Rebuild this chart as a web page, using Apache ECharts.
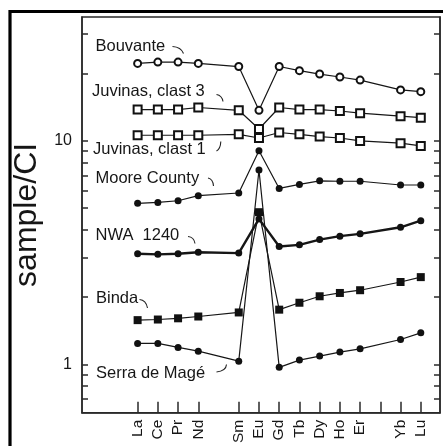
<!DOCTYPE html>
<html>
<head>
<meta charset="utf-8">
<script src="https://cdn.jsdelivr.net/npm/echarts@6/dist/echarts.min.js"></script>
<style>
  html, body { margin: 0; padding: 0; background: #fff; }
  #chart { width: 443px; height: 446px; }
</style>
</head>
<body>
<div id="chart"></div>
<script>
// REE along x; Pm and Tm keep their slot but have no analysis
const elements = ['La', 'Ce', 'Pr', 'Nd', 'Pm', 'Sm', 'Eu', 'Gd', 'Tb', 'Dy', 'Ho', 'Er', 'Tm', 'Yb', 'Lu'];
const measured = ['La', 'Ce', 'Pr', 'Nd', 'Sm', 'Eu', 'Gd', 'Tb', 'Dy', 'Ho', 'Er', 'Yb', 'Lu'];
const tickElements = ['La', 'Ce', 'Pr', 'Nd', 'Sm', 'Eu', 'Gd', 'Tb', 'Dy', 'Ho', 'Er', 'Tm', 'Yb', 'Lu'];

// sample / CI values, same order as measured
const bouvante     = [22.2, 22.5, 22.5, 22.2, 21.5, 13.7, 21.5, 20.6, 19.9, 19.3, 18.7, 16.9, 16.6];
const juvinas3     = [13.8, 13.8, 13.8, 14.1, 13.7, 11.3, 14.1, 13.8, 13.8, 13.6, 13.3, 12.9, 12.7];
const juvinas1     = [10.6, 10.6, 10.6, 10.6, 10.7, 10.3, 10.9, 10.7, 10.45, 10.3, 10.0, 9.77, 9.5];
const mooreCounty  = [5.26, 5.31, 5.40, 5.69, 5.85, 9.03, 6.13, 6.39, 6.63, 6.6, 6.6, 6.35, 6.35];
const nwa1240      = [3.13, 3.11, 3.13, 3.18, 3.15, 4.48, 3.37, 3.43, 3.62, 3.75, 3.84, 4.11, 4.40];
const binda        = [1.58, 1.59, 1.61, 1.64, 1.71, 4.80, 1.76, 1.89, 2.02, 2.09, 2.15, 2.34, 2.46];
const serraDeMage  = [1.243, 1.243, 1.193, 1.148, 1.036, 7.41, 0.972, 1.047, 1.091, 1.137, 1.176, 1.295, 1.386];

// log axis ticks and labels
const yTickValues = [0.7, 0.8, 0.9, 1, 2, 3, 4, 5, 6, 7, 8, 9, 10, 20, 30];
const yLabelValues = [1, 10];

const chart = echarts.init(document.getElementById('chart'));

const toPoints = (values) => measured.map((el, i) => [elements.indexOf(el), values[i]]);

const makeSeries = (name, values, symbol, size, width) => ({
  name: name,
  type: 'line',
  data: toPoints(values),
  symbol: symbol,
  symbolSize: size,
  showSymbol: true,
  lineStyle: { color: '#161616', width: width },
  itemStyle: { color: '#111', borderWidth: 1.2 },
  z: width > 2 ? 3 : 2,
  animation: false
});

const font = '16.5px "Liberation Sans", Arial, sans-serif';
const label = (text, x, y) => ({
  type: 'text',
  style: { text: text, x: x, y: y, font: font, fill: '#161616', verticalAlign: 'middle' }
});
const hook = (x1, y1, cx, cy, x2, y2) => ({
  type: 'bezierCurve',
  shape: { x1: x1, y1: y1, cpx1: cx, cpy1: cy, x2: x2, y2: y2 },
  style: { stroke: '#222', lineWidth: 1.1, fill: null }
});

const yAxisBase = {
  type: 'log',
  min: 0.609,
  max: 35.8,
  axisLine: { show: true, onZero: false, lineStyle: { color: '#2a2a2a', width: 1.5 } },
  axisTick: { show: true, inside: true, length: 6, customValues: yTickValues, lineStyle: { color: '#2a2a2a', width: 1.5 } },
  splitLine: { show: false },
  minorTick: { show: false }
};

chart.setOption({
  animation: false,
  grid: { left: 82, right: 3, top: 17, bottom: 33, show: true, borderColor: '#2a2a2a', borderWidth: 1.5 },
  xAxis: {
    type: 'value',
    min: -2.75,
    max: 14.95,
    axisLine: { show: true, onZero: false, lineStyle: { color: '#2a2a2a', width: 1.5 } },
    axisTick: {
      show: true, inside: true, length: 11,
      customValues: tickElements.map(el => elements.indexOf(el)),
      lineStyle: { color: '#2a2a2a', width: 1.5 }
    },
    axisLabel: {
      rotate: 90,
      margin: 7,
      color: '#161616',
      fontSize: 15.5,
      fontFamily: '"Liberation Sans", Arial, sans-serif',
      padding: [0, 0, 8, 0],
      customValues: measured.map(el => elements.indexOf(el)),
      formatter: (v) => elements[Math.round(v)]
    },
    splitLine: { show: false }
  },
  yAxis: [
    Object.assign({}, yAxisBase, {
      position: 'left',
      name: 'sample/CI',
      nameLocation: 'middle',
      nameGap: 29,
      nameTextStyle: { fontSize: 32, color: '#161616', fontFamily: '"Liberation Sans", Arial, sans-serif' },
      axisLabel: {
        customValues: yLabelValues,
        margin: 10,
        color: '#161616',
        fontSize: 16,
        fontFamily: '"Liberation Sans", Arial, sans-serif',
        padding: [10, 0, 0, 0],
        formatter: (v) => String(Math.round(v))
      }
    }),
    Object.assign({}, yAxisBase, {
      position: 'right',
      axisLabel: { show: false }
    })
  ],
  series: [
    makeSeries('Bouvante', bouvante, 'emptyCircle', 7, 1.2),
    makeSeries('Juvinas, clast 3', juvinas3, 'emptyRect', 8, 1.2),
    makeSeries('Juvinas, clast 1', juvinas1, 'emptyRect', 8, 1.2),
    makeSeries('Moore County', mooreCounty, 'circle', 7, 1.2),
    makeSeries('NWA 1240', nwa1240, 'circle', 7, 2.4),
    makeSeries('Binda', binda, 'rect', 8, 1.2),
    makeSeries('Serra de Magé', serraDeMage, 'circle', 7, 1.2)
  ],
  graphic: [
    // outer frame, runs off the right and bottom edges
    { type: 'rect', shape: { x: 10, y: 11.5, width: 500, height: 500 }, style: { stroke: '#000', lineWidth: 3.2, fill: null }, silent: true },
    label('Bouvante', 95.5, 46),
    hook(172.5, 46.5, 181, 47, 183.5, 53.5),
    label('Juvinas, clast 3', 92, 91),
    hook(216.5, 94.5, 222, 95.5, 223, 101.5),
    label('Juvinas, clast 1', 93, 149.5),
    hook(216.5, 151, 220.5, 149, 220.8, 141.5),
    label('Moore County', 95.5, 178.5),
    hook(208, 178, 213, 179, 213.5, 186),
    label('NWA  1240', 95.5, 235),
    hook(188, 236.5, 194, 237, 195, 243.5),
    label('Binda', 96, 298.5),
    hook(139.5, 299.5, 146, 300, 147.5, 308),
    label('Serra de Magé', 96, 373.5),
    hook(216.5, 372, 226, 371, 226.5, 364.5)
  ]
});
</script>
</body>
</html>
